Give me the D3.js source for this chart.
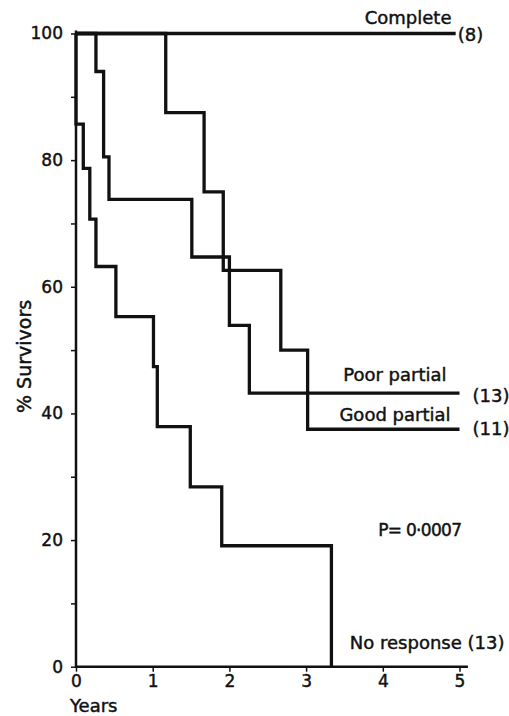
<!DOCTYPE html>
<html>
<head>
<meta charset="utf-8">
<script src="https://cdn.jsdelivr.net/npm/d3@7"></script>
<style>
  html, body { margin: 0; padding: 0; background: #fff; }
  svg { display: block; }
  text { font-family: 'DejaVu Sans', sans-serif; fill: #111; stroke: #111; stroke-width: 0.45px; }
</style>
</head>
<body>
<div id="chart"></div>
<script>
// Kaplan-Meier style survival by response group
const years = [0, 1, 2, 3, 4, 5];
const pctTicks = [0, 10, 20, 30, 40, 50, 60, 70, 80, 90, 100];

const completeT = [0, 4.95];
const completeS = [100, 100];

const poorT = [0, 0.26, 0.36, 0.43, 1.51, 2.0, 2.26, 5.0];
const poorS = [100, 94, 80.5, 73.8, 64.7, 53.9, 43.2, 43.2];

const goodT = [0, 1.17, 1.67, 1.92, 2.67, 3.02, 5.0];
const goodS = [100, 87.5, 75, 62.6, 50, 37.5, 37.5];

const noneT = [0, 0, 0.095, 0.18, 0.26, 0.52, 1.01, 1.06, 1.49, 1.9, 3.33];
const noneS = [100, 85.7, 78.7, 70.7, 63.2, 55.3, 47.4, 37.9, 28.4, 19.1, 0];

(function () {
  'use strict';

  const W = 509, H = 716;

  const svg = d3.select('#chart').append('svg')
    .attr('width', W)
    .attr('height', H);

  const x = d3.scaleLinear().domain([0, 5]).range([76, 459.5]);
  const y = d3.scaleLinear().domain([0, 100]).range([666.7, 33.5]);

  // Y axis
  const yAxis = d3.axisLeft(y)
    .tickValues(pctTicks)
    .tickSize(5)
    .tickSizeOuter(0)
    .tickPadding(8)
    .tickFormat(d => d % 20 === 0 ? d : '');

  const gy = svg.append('g')
    .attr('transform', `translate(${x(0)},0)`)
    .call(yAxis);
  gy.select('.domain').remove();
  gy.selectAll('.tick line').attr('stroke', '#111').attr('stroke-width', 1.5);
  gy.selectAll('.tick text')
    .attr('font-size', 17)
    .attr('font-family', "'DejaVu Sans', sans-serif")
    .attr('fill', '#111');

  svg.append('line')
    .attr('x1', x(0)).attr('x2', x(0))
    .attr('y1', y(0) + 1).attr('y2', y(100) - 3)
    .attr('stroke', '#111').attr('stroke-width', 2.5);

  // X axis
  const xAxis = d3.axisBottom(x)
    .tickValues(years)
    .tickSize(5)
    .tickSizeOuter(0)
    .tickPadding(3)
    .tickFormat(d3.format('d'));

  const gx = svg.append('g')
    .attr('transform', `translate(0,${y(0)})`)
    .call(xAxis);
  gx.select('.domain').remove();
  gx.selectAll('.tick line').attr('stroke', '#111').attr('stroke-width', 1.5);
  gx.selectAll('.tick text')
    .attr('font-size', 17)
    .attr('font-family', "'DejaVu Sans', sans-serif")
    .attr('fill', '#111');

  svg.append('line')
    .attr('x1', x(0) - 1).attr('x2', x(5.11))
    .attr('y1', y(0)).attr('y2', y(0))
    .attr('stroke', '#111').attr('stroke-width', 2.5);

  // Axis titles
  svg.append('text')
    .attr('x', x(0) - 6)
    .attr('y', 712)
    .attr('font-size', 18)
    .text('Years');

  svg.append('text')
    .attr('transform', `translate(31,${y(49)}) rotate(-90)`)
    .attr('text-anchor', 'middle')
    .attr('font-size', 19)
    .text('% Survivors');

  // Survival curves
  const line = d3.line()
    .x(d => x(d[0]))
    .y(d => y(d[1]))
    .curve(d3.curveStepAfter);

  const series = [
    d3.zip(completeT, completeS),
    d3.zip(poorT, poorS),
    d3.zip(goodT, goodS),
    d3.zip(noneT, noneS),
  ];

  svg.selectAll('path.curve')
    .data(series)
    .join('path')
    .attr('class', 'curve')
    .attr('d', line)
    .attr('fill', 'none')
    .attr('stroke', '#111')
    .attr('stroke-width', 3.3)
    .attr('stroke-linejoin', 'miter');

  // Labels
  const lastPoor = poorS[poorS.length - 1];
  const lastGood = goodS[goodS.length - 1];

  const labels = [
    { t: 'Complete',     x: x(5) - 8,   y: y(100) - 10,     anchor: 'end' },
    { t: '(8)',          x: x(4.95) + 2, y: y(100) + 7,     anchor: 'start' },
    { t: 'Poor partial', x: x(5) - 13,  y: y(lastPoor) - 12, anchor: 'end' },
    { t: '(13)',         x: x(5) + 13,  y: y(lastPoor) + 9,  anchor: 'start' },
    { t: 'Good partial', x: x(5) - 9,   y: y(lastGood) - 8,  anchor: 'end' },
    { t: '(11)',         x: x(5) + 13,  y: y(lastGood) + 6,  anchor: 'start' },
    { t: 'No response (13)', x: x(3.57), y: 649, anchor: 'start' },
  ];

  svg.selectAll('text.lbl')
    .data(labels)
    .join('text')
    .attr('class', 'lbl')
    .attr('x', d => d.x)
    .attr('y', d => d.y)
    .attr('text-anchor', d => d.anchor)
    .attr('font-size', 18)
    .text(d => d.t);

  svg.append('text')
    .attr('x', x(3.94))
    .attr('y', 536)
    .attr('font-size', 17)
    .attr('letter-spacing', -0.7)
    .text('P= 0·0007');
})();
</script>
</body>
</html>
